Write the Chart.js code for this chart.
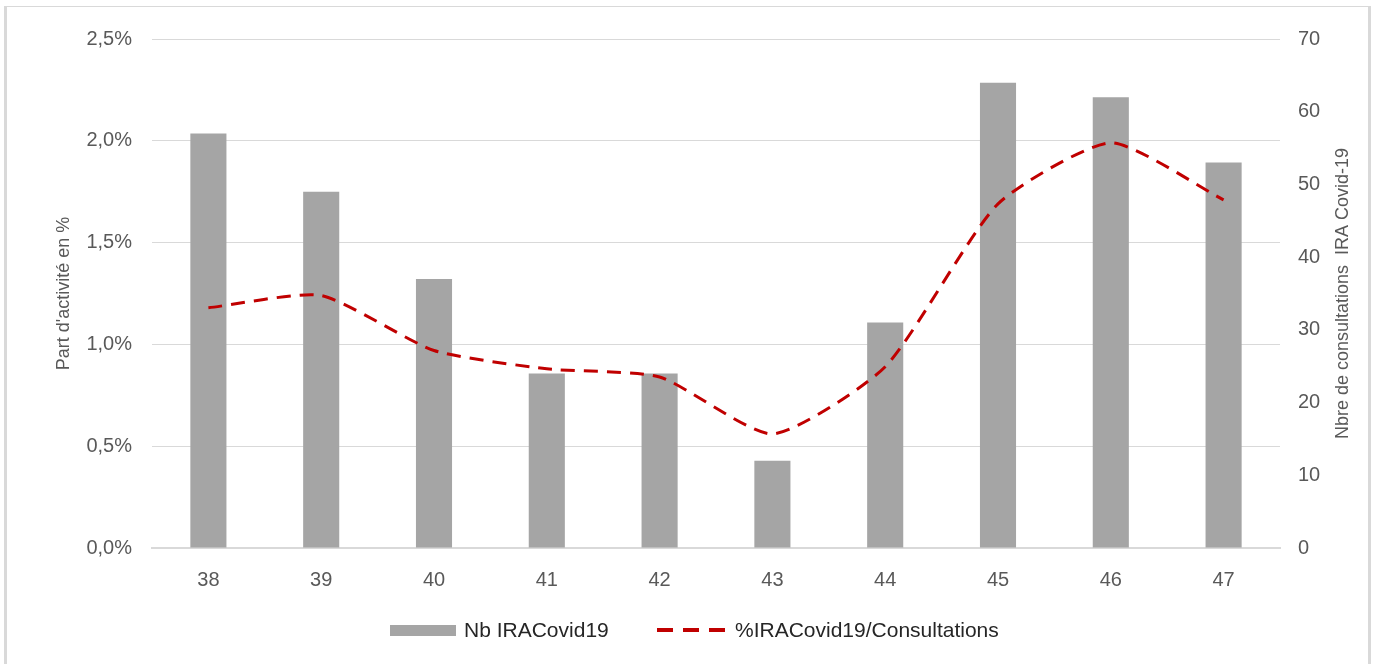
<!DOCTYPE html>
<html>
<head>
<meta charset="utf-8">
<script src="https://cdn.jsdelivr.net/npm/chart.js@4"></script>
<style>
  html, body { margin: 0; padding: 0; background: #fff; }
  #wrap { position: relative; width: 1378px; height: 664px; overflow: hidden; font-family: "Liberation Sans", Arial, sans-serif; }
  #frame { position: absolute; left: 4px; top: 6px; width: 1367px; height: 670px; border-left: 3px solid #d9d9d9; border-right: 3px solid #d9d9d9; border-top: 1px solid #d9d9d9; box-sizing: border-box; }
  #c { position: absolute; left: 0; top: 0; }
  #legend { position: absolute; left: 0; top: 617px; width: 1378px; height: 26px; }
  .item { position: absolute; top: 0; height: 26px; display: flex; align-items: center; font-size: 21px; color: #262626; white-space: nowrap; }
</style>
</head>
<body>
<div id="wrap">
  <div id="frame"></div>
  <canvas id="c" width="1378" height="664"></canvas>
  <div id="legend">
    <div class="item" style="left:390px;"><span style="display:inline-block;width:66px;height:11px;background:#a5a5a5;margin-right:8px;"></span>Nb IRACovid19</div>
    <div class="item" style="left:657px;"><svg width="72" height="8" style="margin-right:6px;"><line x1="0" y1="4" x2="72" y2="4" stroke="#c00000" stroke-width="4" stroke-dasharray="16,10"/></svg>%IRACovid19/Consultations</div>
  </div>
</div>
<script>
const weeks = ["38","39","40","41","42","43","44","45","46","47"];
const nbIRACovid19 = [57, 49, 37, 24, 24, 12, 31, 64, 62, 53];
const pctIRACovid19 = [1.18, 1.24, 0.97, 0.88, 0.84, 0.56, 0.89, 1.69, 1.99, 1.71];
const leftTicksMax = 2.5, leftStep = 0.5;
const rightTicksMax = 70, rightStep = 10;
const leftTitle = "Part d'activité en %";
const rightTitle = "Nbre de consultations  IRA Covid-19";

const tickFont = { family: "'Liberation Sans', Arial, sans-serif", size: 20 };
const tickColor = '#595959';

const titlePlugin = {
  id: 'axisTitles',
  afterDraw(chart) {
    const ctx = chart.ctx;
    const ca = chart.chartArea;
    const cy = (ca.top + ca.bottom) / 2;
    ctx.save();
    ctx.font = "18px 'Liberation Sans', Arial, sans-serif";
    ctx.fillStyle = '#595959';
    ctx.textAlign = 'center';
    ctx.textBaseline = 'middle';
    [[64, leftTitle], [1343, rightTitle]].forEach(([x, t]) => {
      ctx.save();
      ctx.translate(x, cy);
      ctx.rotate(-Math.PI / 2);
      ctx.fillText(t, 0, 0);
      ctx.restore();
    });
    ctx.restore();
  }
};

new Chart(document.getElementById('c'), {
  data: {
    labels: weeks,
    datasets: [
      {
        type: 'line',
        label: '%IRACovid19/Consultations',
        data: pctIRACovid19,
        yAxisID: 'y',
        borderColor: '#c00000',
        borderWidth: 3,
        borderDash: [14, 9],
        pointRadius: 0,
        tension: 0.2,
        fill: false,
        order: 0
      },
      {
        type: 'bar',
        label: 'Nb IRACovid19',
        data: nbIRACovid19,
        yAxisID: 'y1',
        backgroundColor: '#a5a5a5',
        barPercentage: 0.32,
        categoryPercentage: 1,
        order: 1
      }
    ]
  },
  options: {
    responsive: false,
    animation: false,
    layout: { padding: { left: 0, right: 0, top: 39, bottom: 76 } },
    plugins: { legend: { display: false }, tooltip: { enabled: false } },
    scales: {
      x: {
        grid: { display: false },
        border: { display: true, color: '#d9d9d9', width: 2 },
        ticks: { font: tickFont, color: tickColor, padding: 12, maxRotation: 0 },
        afterFit(s) { s.height = 40; }
      },
      y: {
        position: 'left',
        min: 0, max: leftTicksMax,
        ticks: { stepSize: leftStep, font: tickFont, color: tickColor, padding: 20,
          callback: v => v.toFixed(1).replace('.', ',') + '%' },
        grid: { color: '#d9d9d9', lineWidth: 1, drawTicks: false },
        border: { display: false },
        afterFit(s) { s.width = 152; }
      },
      y1: {
        position: 'right',
        min: 0, max: rightTicksMax,
        ticks: { stepSize: rightStep, font: tickFont, color: tickColor, padding: 18 },
        grid: { drawOnChartArea: false, drawTicks: false },
        border: { display: false },
        afterFit(s) { s.width = 98; }
      }
    }
  },
  plugins: [titlePlugin]
});
</script>
</body>
</html>
